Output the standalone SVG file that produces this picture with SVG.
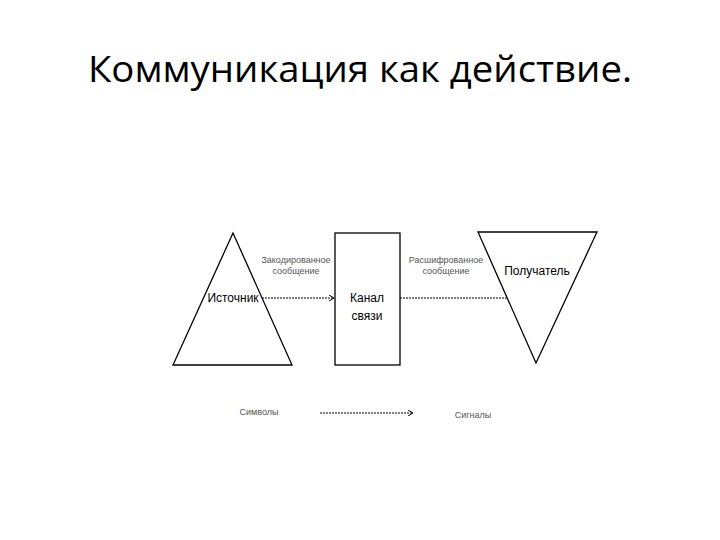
<svg xmlns="http://www.w3.org/2000/svg" width="720" height="540" viewBox="0 0 720 540">
<style>
.s{fill:none;stroke:#000;stroke-width:1.3}
.t{font-family:"Liberation Sans",Arial,sans-serif;fill:#000}
.sm{font-size:9px;fill:#555}
</style>
<defs><marker id="a" markerWidth="6" markerHeight="6" refX="5" refY="3" orient="auto"><path d="M0,0 L5,3 L0,6" fill="none" stroke="#000" stroke-width="1"/></marker></defs>
<rect width="720" height="540" fill="#fff"/>
<text x="88" y="82" font-size="37" textLength="544" lengthAdjust="spacingAndGlyphs" font-family="'Open Sans','Noto Sans',sans-serif" fill="#000">Коммуникация как действие.</text>
<g id="source"><polygon class="s" points="233,233 173,365 292,365"/><text class="t" x="233" y="302" font-size="12" text-anchor="middle">Источник</text></g>
<g id="channel"><rect class="s" x="335" y="233" width="65" height="132"/><text class="t" x="367" y="302" font-size="12" text-anchor="middle">Канал</text><text class="t" x="367" y="320" font-size="12" text-anchor="middle">связи</text></g>
<g id="receiver"><polygon class="s" points="478,232 597,232 536,363"/><text class="t" x="537" y="275" font-size="12" text-anchor="middle">Получатель</text></g>
<g id="connectors">
<line x1="262" y1="298" x2="334" y2="298" stroke="#000" stroke-dasharray="2,1" marker-end="url(#a)"/>
<line x1="400" y1="298" x2="507" y2="298" stroke="#000" stroke-dasharray="2,1"/>
<line x1="320" y1="413" x2="413" y2="413" stroke="#000" stroke-dasharray="2,1" marker-end="url(#a)"/>
</g>
<g id="labels">
<text class="t sm" x="296" y="263" text-anchor="middle">Закодированное</text>
<text class="t sm" x="296" y="274" text-anchor="middle">сообщение</text>
<text class="t sm" x="446" y="263" text-anchor="middle">Расшифрованное</text>
<text class="t sm" x="446" y="274" text-anchor="middle">сообщение</text>
<text class="t sm" x="259" y="415" text-anchor="middle">Символы</text>
<text class="t sm" x="473" y="418" text-anchor="middle">Сигналы</text>
</g>
</svg>
